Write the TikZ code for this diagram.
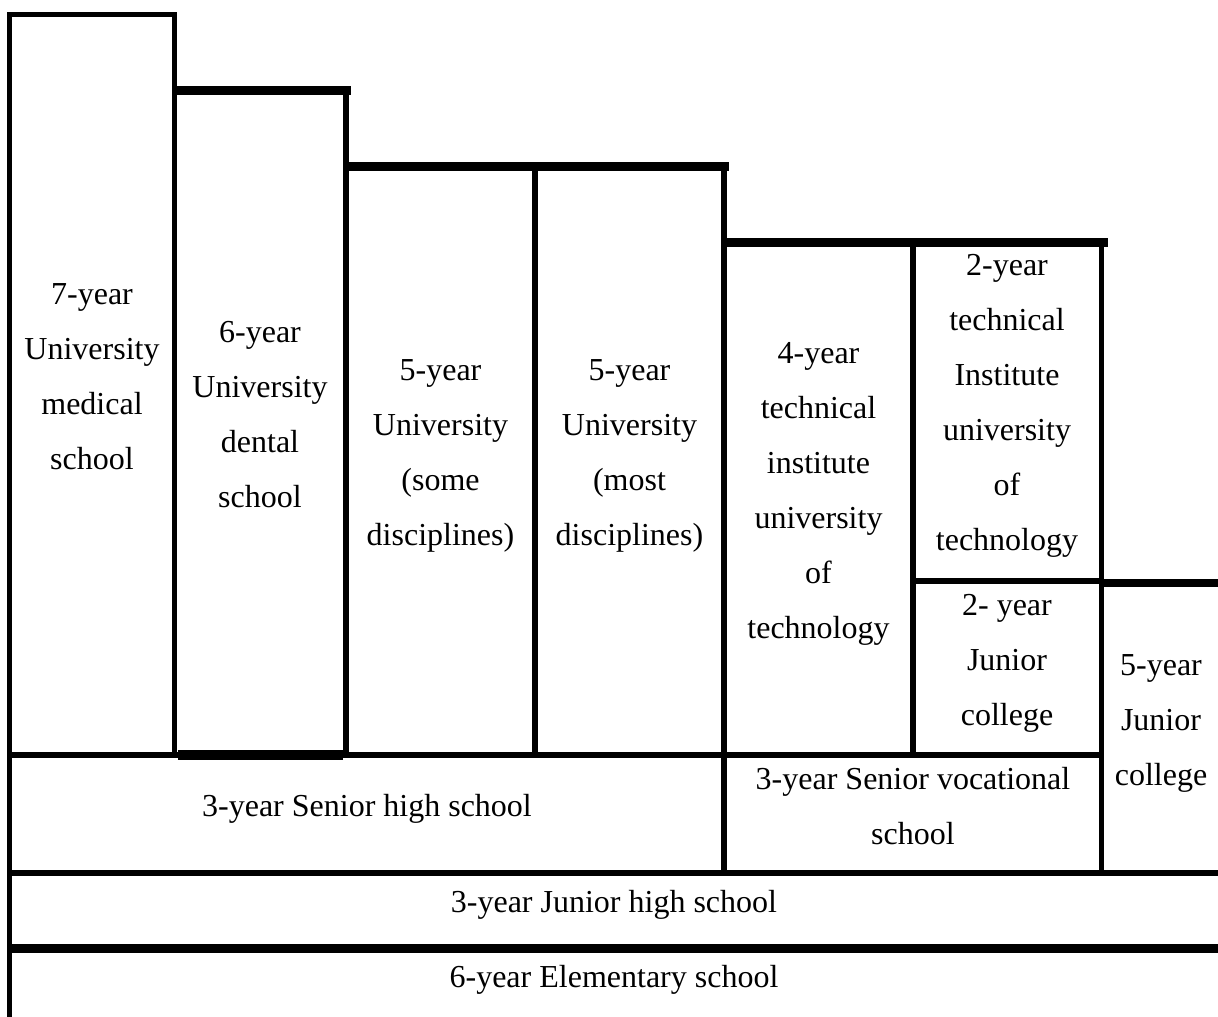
\documentclass[tikz,border=0pt]{standalone}
\usepackage{fontspec}
\setmainfont{Liberation Serif}
\begin{document}
\begin{tikzpicture}[x=1pt,y=-1pt,
  thinline/.style={line width=5.5pt,line cap=rect,line join=miter},
  thickline/.style={line width=9pt},
  lbl/.style={anchor=base,align=center,inner sep=0pt,font=\fontsize{32}{55}\selectfont}]
\useasboundingbox (0,0) rectangle (1218,1017);
% thin lines
\draw[thinline] (9.5,1014.25) -- (9.5,14.5) -- (174.5,14.5) -- (174.5,755);
\draw[thinline] (346,95) -- (346,755);
\draw[thinline] (535,166.5) -- (535,755);
\draw[thinline] (724,166.5) -- (724,873);
\draw[thinline] (913,242.5) -- (913,755);
\draw[thinline] (1101.5,242.5) -- (1101.5,873);
\draw[thinline] (913,581) -- (1101.5,581);
\draw[thinline] (9.5,755) -- (1101.5,755);
\draw[thinline] (9.5,873) -- (1215.25,873);
% thick lines
\draw[thickline] (172,90.5) -- (351,90.5);
\draw[thickline] (343,166.5) -- (729,166.5);
\draw[thickline] (721,242.5) -- (1108,242.5);
\draw[line width=8pt] (1101.5,583) -- (1218,583);
\draw[line width=10pt] (178,755) -- (343,755);
\draw[thickline] (7,948.5) -- (1218,948.5);
% labels (anchor base = baseline of last line)
\node[lbl] (med) at (92,469) {7-year\\University\\medical\\school};
\node[lbl] (den) at (260,507) {6-year\\University\\dental\\school};
\node[lbl] (some) at (440.5,545) {5-year\\University\\(some\\disciplines)};
\node[lbl] (most) at (629.5,545) {5-year\\University\\(most\\disciplines)};
\node[lbl] (tech4) at (818.5,638) {4-year\\technical\\institute\\university\\of\\technology};
\node[lbl] (tech2) at (1007,550) {2-year\\technical\\Institute\\university\\of\\technology};
\node[lbl] (jc2) at (1007,725) {2- year\\Junior\\college};
\node[lbl] (jc5) at (1161,785) {5-year\\Junior\\college};
\node[lbl] (shs) at (367,816) {3-year Senior high school};
\node[lbl] (voc) at (913,844) {3-year Senior vocational\\school};
\node[lbl] (jhs) at (614,912) {3-year Junior high school};
\node[lbl] (elem) at (614,987) {6-year Elementary school};
\end{tikzpicture}
\end{document}
